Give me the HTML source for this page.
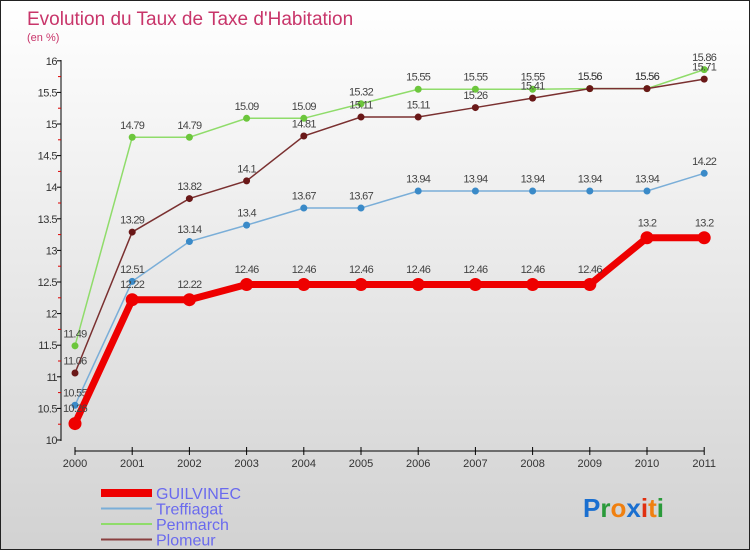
<!DOCTYPE html>
<html><head><meta charset="utf-8"><style>
body{margin:0}
#wrap{position:relative;width:748px;height:548px;border:1px solid #222;background:linear-gradient(#ffffff,#d2d2d2);overflow:hidden;font-family:"Liberation Sans",sans-serif}
</style></head><body>
<div id="wrap">
<svg id="chart" width="748" height="548">
<text x="26" y="24" font-size="19" fill="#c8356a">Evolution du Taux de Taxe d'Habitation</text>
<text x="26" y="40" font-size="11" fill="#c8356a">(en %)</text>
<g id="axes"></g><g id="series"></g><g id="legend"></g>
<text x="582" y="516" font-size="26" font-weight="bold"><tspan fill="#1a6fd0">P</tspan><tspan fill="#2a9a3a">r</tspan><tspan fill="#f08010">o</tspan><tspan fill="#1a6fd0">x</tspan><tspan fill="#e03010">i</tspan><tspan fill="#f08010">t</tspan><tspan fill="#2a9a3a">i</tspan></text>
</svg></div>
<script>
const years=["2000","2001","2002","2003","2004","2005","2006","2007","2008","2009","2010","2011"];
const yTicks=[10,10.5,11,11.5,12,12.5,13,13.5,14,14.5,15,15.5,16];
const guilvinec=[10.26,12.22,12.22,12.46,12.46,12.46,12.46,12.46,12.46,12.46,13.2,13.2];
const treffiagat=[10.55,12.51,13.14,13.4,13.67,13.67,13.94,13.94,13.94,13.94,13.94,14.22];
const penmarch=[11.49,14.79,14.79,15.09,15.09,15.32,15.55,15.55,15.55,15.56,15.56,15.86];
const plomeur=[11.06,13.29,13.82,14.1,14.81,15.11,15.11,15.26,15.41,15.56,15.56,15.71];
const NS="http://www.w3.org/2000/svg";
const X=i=>74+i*57.2, Y=v=>439-(v-10)*63.2;
function mk(t,a,p){const e=document.createElementNS(NS,t);for(const k in a)e.setAttribute(k,a[k]);p.appendChild(e);return e;}
const ax=document.getElementById('axes');
let l=mk('line',{x1:60,y1:59,x2:60,y2:440,stroke:'#000'},ax);


yTicks.forEach(v=>{
 const t=mk('line',{x1:56,x2:60,y1:Y(v),y2:Y(v),stroke:'#000'},ax);
 
 
 const m=mk('line',{x1:57,x2:60,y1:Y(v+0.25),y2:Y(v+0.25),stroke:'#d00'},ax);
 
 
 if(v==16)m.remove();
 const tx=mk('text',{x:56,y:Y(v)+4,'font-size':11,'text-anchor':'end',fill:'#333','letter-spacing':'-0.5'},ax);
 tx.textContent=String(v);
 
 
});
l=mk('line',{x1:X(0),y1:450,x2:X(11),y2:450,stroke:'#000'},ax);


years.forEach((y,i)=>{
 const t=mk('line',{x1:X(i),x2:X(i),y1:446,y2:454,stroke:'#000'},ax);
 
 
 const tx=mk('text',{x:X(i),y:466,'font-size':11,'text-anchor':'middle',fill:'#333'},ax);
 tx.textContent=y;
 
 
});
const sg=document.getElementById('series');
const series=[
 {n:'penmarch',d:penmarch,c:'#8fdc6a',pc:'#6cc63c',w:1.5,r:3.5},
 {n:'plomeur',d:plomeur,c:'#7a3030',pc:'#6a1818',w:1.5,r:3.5},
 {n:'treffiagat',d:treffiagat,c:'#7aaed8',pc:'#3a8ac8',w:1.5,r:3.5},
 {n:'guilvinec',d:guilvinec,c:'#ee0000',pc:'#ee0000',w:7,r:6.5}];
series.forEach(s=>{
 const p=mk('polyline',{points:s.d.map((v,i)=>X(i)+','+Y(v)).join(' '),fill:'none',stroke:s.c,'stroke-width':s.w},sg);
 
 
 s.d.forEach((v,i)=>{
  const c=mk('circle',{cx:X(i),cy:Y(v),r:s.r,fill:s.pc},sg);
  
  
  const t=mk('text',{x:X(i),y:Y(v)-(s.r+5),'font-size':11,'text-anchor':'middle',fill:'#444','letter-spacing':'-0.7'},sg);
  t.textContent=String(v);
  
  
 });
});
const lg=document.getElementById('legend');
const leg=[['GUILVINEC','#ee0000',8],['Treffiagat','#7aaed8',2],['Penmarch','#8fdc6a',2],['Plomeur','#8a4040',2]];
leg.forEach((e,i)=>{
 const y=492+i*15.5;
 const ln=mk('line',{x1:100,x2:151,y1:y,y2:y,stroke:e[1],'stroke-width':e[2]},lg);
 
 
 const t=mk('text',{x:155,y:y+6,'font-size':16,fill:'#6a6aee'},lg);
 t.textContent=e[0];
 
 
});
</script>
</body></html>
